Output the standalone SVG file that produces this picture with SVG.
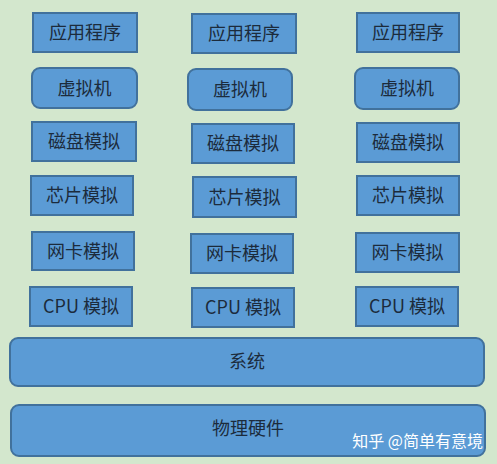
<svg xmlns="http://www.w3.org/2000/svg" width="497" height="464" viewBox="0 0 497 464">
<style>
.box{fill:#5b9bd5;stroke:#41719c;stroke-width:2}
.t{font-family:"Noto Sans CJK SC","Liberation Sans",sans-serif;font-size:18px;fill:#1c2b3c;text-anchor:middle}
.wm{font-family:"Noto Sans CJK SC","Liberation Sans",sans-serif;font-size:16px;fill:#ffffff;text-anchor:end}
</style>
<rect width="497" height="464" fill="#d3e7cd"/>
<g id="connectors"></g>
<g id="app1"><rect class="box" x="33" y="13" width="104" height="39"/><text class="t" x="85" y="39">应用程序</text></g>
<g id="app2"><rect class="box" x="192" y="14" width="104" height="39"/><text class="t" x="244" y="40">应用程序</text></g>
<g id="app3"><rect class="box" x="357" y="13" width="102" height="39"/><text class="t" x="408" y="39">应用程序</text></g>
<g id="vm1"><rect class="box" x="32" y="68" width="105" height="40" rx="8"/><text class="t" x="84.5" y="94.5">虚拟机</text></g>
<g id="vm2"><rect class="box" x="188" y="69" width="104" height="41" rx="8"/><text class="t" x="240" y="96">虚拟机</text></g>
<g id="vm3"><rect class="box" x="355" y="68" width="104" height="41" rx="8"/><text class="t" x="407" y="95">虚拟机</text></g>
<g id="disk1"><rect class="box" x="32" y="122" width="104" height="39"/><text class="t" x="84" y="148">磁盘模拟</text></g>
<g id="disk2"><rect class="box" x="192" y="124" width="102" height="39"/><text class="t" x="243" y="150">磁盘模拟</text></g>
<g id="disk3"><rect class="box" x="357" y="123" width="102" height="39"/><text class="t" x="408" y="149">磁盘模拟</text></g>
<g id="chip1"><rect class="box" x="31" y="176" width="102" height="39"/><text class="t" x="82" y="202">芯片模拟</text></g>
<g id="chip2"><rect class="box" x="193" y="177" width="103" height="40"/><text class="t" x="244.5" y="203.5">芯片模拟</text></g>
<g id="chip3"><rect class="box" x="357" y="176" width="102" height="39"/><text class="t" x="408" y="202">芯片模拟</text></g>
<g id="nic1"><rect class="box" x="32" y="232" width="102" height="38"/><text class="t" x="83" y="257.5">网卡模拟</text></g>
<g id="nic2"><rect class="box" x="191" y="234" width="102" height="39"/><text class="t" x="242" y="260">网卡模拟</text></g>
<g id="nic3"><rect class="box" x="356" y="233" width="103" height="39"/><text class="t" x="407.5" y="259">网卡模拟</text></g>
<g id="cpu1"><rect class="box" x="30" y="287" width="102" height="39"/><text class="t" x="81" y="313">CPU 模拟</text></g>
<g id="cpu2"><rect class="box" x="192" y="288" width="102" height="39"/><text class="t" x="243" y="314">CPU 模拟</text></g>
<g id="cpu3"><rect class="box" x="356" y="287" width="102" height="39"/><text class="t" x="407" y="313">CPU 模拟</text></g>
<g id="system"><rect class="box" x="10" y="338" width="474" height="48" rx="8"/><text class="t" x="247" y="368">系统</text></g>
<g id="hardware"><rect class="box" x="11" y="405" width="474" height="51" rx="8"/><text class="t" x="248" y="435">物理硬件</text></g>
<text class="wm" x="483" y="447">知乎 @简单有意境</text>
</svg>
